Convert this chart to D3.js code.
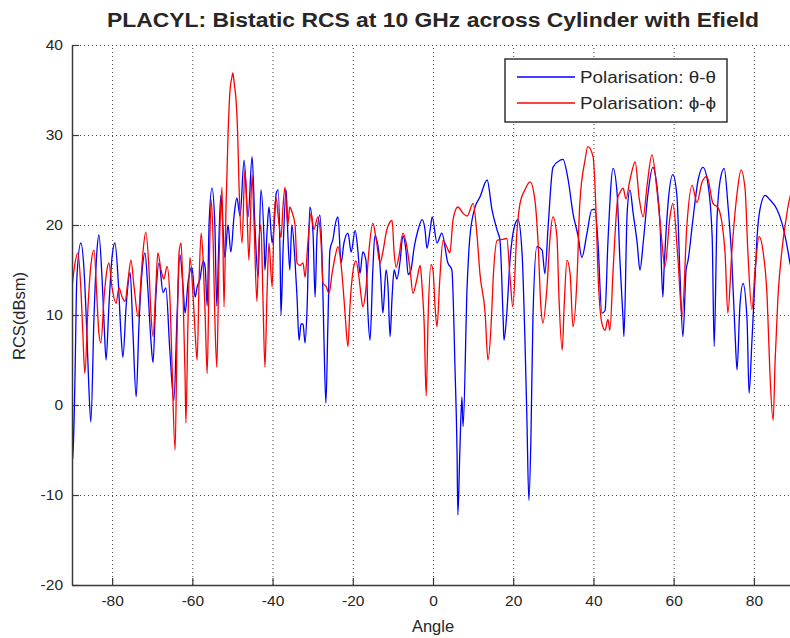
<!DOCTYPE html>
<html><head><meta charset="utf-8">
<script src="https://cdn.jsdelivr.net/npm/d3@7"></script>
<style>
body{margin:0;background:#fff}
svg{display:block}
text{font-family:"Liberation Sans",Arial,Helvetica,sans-serif;fill:#262626}
</style>
</head><body>
<svg id="chart" width="790" height="638"></svg>
<script>
const chartTitle = "PLACYL: Bistatic RCS at 10 GHz across Cylinder with Efield";
const xLabel = "Angle";
const yLabel = "RCS(dBsm)";
const seriesNames = ["Polarisation: θ-θ", "Polarisation: ϕ-ϕ"];
const seriesColors = ["#0000ff", "#ff0000"];
const xTicks = [-80, -60, -40, -20, 0, 20, 40, 60, 80];
const yTicks = [-20, -10, 0, 10, 20, 30, 40];

const thetaAngles = [-90.0,-89.8,-89.3,-88.8,-87.8,-87.0,-86.3,-85.8,-85.3,-84.5,-83.8,-83.3,-82.5,-82.0,-81.5,-80.8,-80.0,-79.3,-78.5,-77.8,-77.3,-76.5,-75.5,-74.8,-74.0,-73.3,-72.5,-71.8,-71.1,-70.3,-69.8,-69.1,-68.3,-67.3,-66.6,-65.6,-64.6,-63.8,-63.1,-62.3,-61.8,-61.1,-60.1,-59.3,-58.8,-58.1,-57.3,-56.8,-56.3,-55.8,-55.1,-54.4,-53.9,-53.4,-52.9,-52.4,-51.9,-51.1,-50.4,-49.6,-48.9,-48.1,-47.1,-46.1,-45.1,-44.4,-43.6,-42.9,-42.1,-41.9,-41.4,-40.9,-40.1,-39.6,-39.1,-38.6,-38.1,-37.9,-37.4,-36.6,-36.2,-35.7,-35.2,-34.4,-33.9,-33.4,-32.9,-32.4,-31.9,-31.4,-30.7,-29.9,-29.4,-28.9,-28.2,-27.7,-27.2,-26.7,-26.2,-25.7,-24.9,-24.4,-23.7,-22.9,-22.2,-21.2,-20.4,-19.4,-18.7,-18.2,-17.5,-16.7,-16.2,-15.7,-15.0,-14.5,-13.5,-13.0,-12.5,-11.7,-11.2,-10.7,-10.2,-9.7,-9.0,-8.2,-7.5,-6.7,-6.2,-5.5,-4.7,-3.7,-2.7,-2.0,-1.5,-0.7,-0.2,1.0,2.2,3.7,4.7,5.5,6.0,6.2,6.7,7.2,7.5,8.5,9.2,10.5,11.7,13.5,14.7,16.0,16.7,17.5,17.7,18.4,19.2,20.4,21.2,22.2,22.9,23.4,23.9,24.4,24.9,25.9,27.2,27.9,28.7,29.9,31.7,32.4,33.7,34.9,36.2,37.1,38.4,39.6,40.4,41.1,42.1,42.9,43.6,44.9,45.9,46.6,47.4,47.6,48.4,49.1,49.9,50.9,51.6,52.4,53.6,54.8,55.8,56.6,57.3,57.6,58.6,59.8,60.8,61.6,62.3,63.1,63.6,64.8,66.1,67.3,68.6,69.6,70.1,70.8,71.6,72.6,73.5,74.5,75.3,75.8,76.5,77.3,78.3,78.8,79.5,80.3,80.8,81.5,82.8,84.0,85.8,87.0,88.3,89.0,90.0];
const thetaRCS = [12,-6,2,14,18,15,8,2,-1.9,10,17,18.9,14,9,5,11,16.5,18,14,8,5.3,11,14.7,8,0.9,9,15,16.9,13,7,4.7,12,15.8,12.5,13,6,0.5,10,16.7,13,10.2,13.5,15.3,12,13.1,14,16,15.3,11,20.4,24.1,20.2,11,18,23.3,20,16.4,20,17,21,23,21,27.2,20.9,27.6,20,14.2,23.9,18,15,19,22,18,20,23.5,23.9,16,10,17,23.9,19,15,20,16,12,7.2,9,9,6.9,10.6,22,19,12,19,21.1,17,7.6,0.2,9,17.2,18.5,20,20.9,15.8,18,19.1,17,19.4,17,14.6,17,16,10,7.2,15,18.8,17,14,10.2,15,13,7.6,12,15,14,16,18.8,17,14.5,15,17.5,19.5,20.6,19.5,17.4,19.5,20.9,18,19.1,15.8,15,3.9,-5.4,-12.2,-5,0.9,-2.4,13.1,18.7,22,23.1,25,21.7,19.4,18.3,9.4,7.2,10.2,16.1,20,20.6,16.9,7.6,-1.3,-10.6,-4,9.4,17.6,17.2,14.6,19.8,26.4,27.2,27.3,25,21.3,18.7,16.4,19.1,21.7,21.7,18.3,10.2,10.5,18,26.3,23.5,16.1,9.4,7.6,21.3,23.9,21.3,18,15,18,23.5,26.4,24.4,20.2,12,15,22.4,25.6,23.3,14.2,7.6,15,16.1,20.6,25,26.4,24.4,18.7,6.5,20.6,25,26.3,22.4,16.1,8,3.9,10.9,13.5,9.4,1.3,7,14.2,18.7,21.7,23.3,22.8,21.7,20.2,17.6,15.8,14];

const phiAngles = [-90.0,-89.5,-88.5,-87.8,-87.3,-86.8,-86.0,-85.3,-84.5,-83.8,-83.3,-82.8,-82.0,-81.3,-80.8,-80.0,-79.0,-78.3,-77.5,-76.8,-76.0,-75.3,-74.5,-73.5,-72.8,-72.3,-71.6,-70.8,-70.3,-69.8,-69.1,-68.6,-67.8,-67.1,-66.3,-65.6,-65.1,-64.3,-63.8,-63.3,-62.8,-62.3,-61.8,-61.6,-61.1,-60.6,-59.8,-59.3,-58.8,-58.3,-57.8,-57.3,-56.8,-56.3,-55.8,-55.3,-54.8,-54.4,-53.9,-53.4,-52.6,-52.1,-51.6,-51.1,-50.6,-50.1,-49.9,-49.5,-49.1,-48.7,-48.4,-47.6,-46.9,-46.4,-45.9,-45.1,-44.6,-43.9,-43.4,-42.9,-42.4,-41.9,-41.4,-40.9,-40.1,-39.6,-39.1,-38.6,-37.9,-37.4,-36.9,-36.2,-35.7,-35.2,-34.4,-33.9,-33.2,-32.4,-31.9,-31.2,-30.4,-29.7,-28.7,-27.9,-27.4,-26.7,-25.9,-25.2,-24.4,-23.7,-22.9,-22.4,-21.9,-21.2,-20.7,-19.9,-19.2,-18.4,-17.9,-17.5,-16.7,-16.0,-15.0,-14.2,-13.2,-12.5,-11.5,-10.2,-9.7,-9.2,-8.5,-7.5,-6.7,-5.7,-5.0,-4.0,-3.2,-2.7,-2.2,-1.7,-1.2,-0.5,0.0,0.5,1.0,1.7,2.5,3.5,4.2,5.0,6.2,7.5,8.5,10.0,11.0,11.7,13.0,13.7,14.5,15.0,16.0,17.2,18.4,19.2,19.9,20.9,21.7,22.9,24.2,25.4,26.2,26.9,27.4,28.4,29.2,29.9,30.9,31.4,32.2,32.7,33.4,34.2,34.9,35.9,36.6,37.9,38.6,39.9,40.6,41.1,42.1,42.9,43.6,44.1,44.9,46.1,46.6,47.4,48.1,49.1,50.4,51.4,52.4,53.4,54.6,55.8,57.1,57.8,59.1,59.8,61.1,62.1,63.3,64.6,65.8,67.1,68.3,69.8,71.1,72.8,73.5,74.5,75.8,76.8,77.8,78.5,79.5,80.3,81.3,82.3,83.3,84.0,84.8,85.3,86.0,87.0,87.8,89.0,90.0];
const phiRCS = [13,15,16.9,13,8,3.5,11,15.5,17.2,12,8,6.9,12,15,15.8,13,11.3,13,12,11.5,14,16.1,13,9.8,14,17,19.2,15,10,7.6,13,16.9,15,14,15.4,12,5,-5,8,17,18,12,3,-2,9,16.4,12,8,5,14,19.1,16,10,3.5,15,22.8,18,10,4.2,15,24.2,10.9,22,30,35,36.5,36.9,35.5,33.9,30.2,25,18,26.1,22,16.1,25.5,20,11.5,18,20,12,4.2,12,18,13.1,21,23,21,18.6,22,24.2,20,22,21.5,20,15.8,15.5,15.8,14.2,18,21.3,19.5,20.9,18,13.5,13.2,12.4,14.5,16.5,17.6,15.5,13,10,6.5,11,15,16,14,12,10.9,13,17,20.2,18.5,15.8,17,19.5,20.5,17,15.3,16.5,19.1,18,15,12.4,14,15.5,13,9,1,10,15.6,15,11,8.7,14,18.3,17.5,16.9,20.6,22,21.3,21,22.4,18.7,14.6,10.2,5,9,14,18.3,18.4,18.5,14.2,10.9,19.1,22.4,23.9,24.8,22.8,18,10.9,9.1,13,18.7,20.9,18.7,12,6.1,11,16.1,14.5,8.7,14,22.4,27.2,28.7,27.6,22,15,9.1,8.3,9.5,8.3,15,23.1,23.6,24.1,22.9,25,27.0,23,20.9,24.5,27.8,24,18,15.3,21,22.4,16,9.8,20,24.4,22.5,24.8,25.4,22.4,21.9,17,10.2,17,23.5,26.1,24,17,10.6,15,18.7,17,12,3.5,-1.7,5,12,17.2,20,23.1,24];

const pL = 72, pR = 794, pT = 45, pB = 585;
const svg = d3.select("#chart");

const x = d3.scaleLinear().domain([-90, 90]).range([pL, pR]);
const y = d3.scaleLinear().domain([-20, 40]).range([pB, pT]);

svg.append("defs").append("clipPath").attr("id", "clip")
  .append("rect").attr("x", pL).attr("y", pT - 1).attr("width", pR - pL).attr("height", pB - pT + 2);

// grid
const grid = svg.append("g").attr("class", "grid");
grid.append("g").attr("transform", `translate(0,${pB})`)
  .call(d3.axisBottom(x).tickValues(xTicks).tickSize(-(pB - pT)).tickFormat(""))
  .call(g => g.select(".domain").remove());
grid.append("g").attr("transform", `translate(${pL},0)`)
  .call(d3.axisLeft(y).tickValues(yTicks).tickSize(-(pR - pL)).tickFormat(""))
  .call(g => g.select(".domain").remove());
grid.selectAll("line").attr("stroke", "#444").attr("stroke-width", 1).attr("stroke-dasharray", "1,3");

// data lines
const line = d3.line().x(d => x(d[0])).y(d => y(d[1])).curve(d3.curveMonotoneX);
const series = [
  d3.zip(thetaAngles, thetaRCS),
  d3.zip(phiAngles, phiRCS)
];
const plot = svg.append("g").attr("clip-path", "url(#clip)");
series.forEach((s, i) => {
  plot.append("path").datum(s).attr("d", line)
    .attr("fill", "none").attr("stroke", seriesColors[i])
    .attr("stroke-width", 1.3).attr("stroke-linejoin", "round");
});

// axes
const fmt = d => String(d);
const xAxis = svg.append("g").attr("transform", `translate(0,${pB})`)
  .call(d3.axisBottom(x).tickValues(xTicks).tickSizeInner(-7).tickSizeOuter(0).tickPadding(10).tickFormat(fmt));
const yAxis = svg.append("g").attr("transform", `translate(${pL},0)`)
  .call(d3.axisLeft(y).tickValues(yTicks).tickSizeInner(-7).tickSizeOuter(0).tickPadding(9).tickFormat(fmt));
[xAxis, yAxis].forEach(a => {
  a.select(".domain").attr("stroke", "#3a3a3a").attr("stroke-width", 1.5);
  a.selectAll(".tick line").attr("stroke", "#3a3a3a").attr("stroke-width", 1.2);
  a.selectAll(".tick text").attr("font-size", 15.5).attr("fill", "#262626")
    .attr("font-family", '"Liberation Sans",Arial,sans-serif');
});

// title and labels
svg.append("text").attr("x", 433).attr("y", 27).attr("text-anchor", "middle")
  .attr("font-size", 20).attr("font-weight", "bold").attr("textLength", 652)
  .attr("lengthAdjust", "spacingAndGlyphs").text(chartTitle);
svg.append("text").attr("x", 433).attr("y", 632).attr("text-anchor", "middle")
  .attr("font-size", 16.5).text(xLabel);
svg.append("text").attr("transform", "translate(25,316) rotate(-90)").attr("text-anchor", "middle")
  .attr("font-size", 16.5).text(yLabel);

// legend
const lg = svg.append("g");
lg.append("rect").attr("x", 505).attr("y", 59).attr("width", 222).attr("height", 63)
  .attr("fill", "#fff").attr("stroke", "#333").attr("stroke-width", 1.5);
seriesNames.forEach((n, i) => {
  const yy = 77 + i * 26;
  lg.append("line").attr("x1", 517).attr("x2", 575).attr("y1", yy).attr("y2", yy)
    .attr("stroke", seriesColors[i]).attr("stroke-width", 1.3);
  lg.append("text").attr("x", 580).attr("y", yy + 6).attr("font-size", 17)
    .attr("textLength", 136).attr("lengthAdjust", "spacingAndGlyphs").text(n);
});
</script>
</body></html>
